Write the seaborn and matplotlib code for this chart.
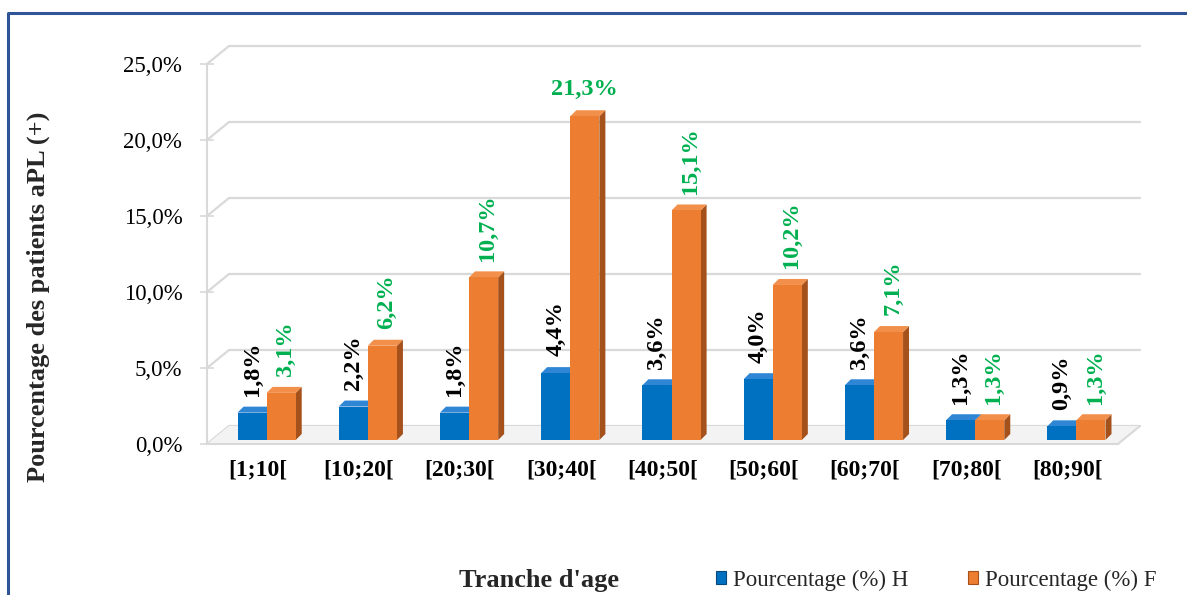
import numpy as np
import pandas as pd
import matplotlib
matplotlib.use("Agg")
import matplotlib.pyplot as plt
import seaborn as sns
from matplotlib.patches import Polygon, Patch
from matplotlib.lines import Line2D
from matplotlib.transforms import IdentityTransform, offset_copy

# ---- data -------------------------------------------------------------
tranches = ["[1;10[", "[10;20[", "[20;30[", "[30;40[", "[40;50[",
            "[50;60[", "[60;70[", "[70;80[", "[80;90["]
pct_h = [1.8, 2.2, 1.8, 4.4, 3.6, 4.0, 3.6, 1.3, 0.9]
pct_f = [3.1, 6.2, 10.7, 21.3, 15.1, 10.2, 7.1, 1.3, 1.3]
series = ["Pourcentage (%) H", "Pourcentage (%) F"]
y_ticks = [0, 5, 10, 15, 20, 25]

# ---- style ------------------------------------------------------------
BLUE, BLUE_SIDE, BLUE_TOP = "#0070C0", "#07477F", "#2F86D4"
ORANGE, ORANGE_SIDE, ORANGE_TOP = "#ED7D31", "#A4511C", "#F28F4A"
GREEN = "#00B050"
GRID = "#D9D9D9"

sns.set_theme(style="white")
plt.rcParams["font.family"] = ["Liberation Serif", "DejaVu Serif"]

df = pd.DataFrame({
    "Tranche": tranches * 2,
    "Sexe": [series[0]] * len(tranches) + [series[1]] * len(tranches),
    "Pct": pct_h + pct_f,
})

W, H = 1187, 595
fig = plt.figure(figsize=(W / 100, H / 100), dpi=100)
ax = fig.add_axes([207 / W, (H - 444) / H, 911 / W, 380 / H])
ax.patch.set_visible(False)

sns.barplot(data=df, x="Tranche", y="Pct", hue="Sexe",
            palette=[BLUE, ORANGE], saturation=1, width=0.575,
            linewidth=0, legend=False, zorder=3, ax=ax)

ax.set_xlim(-0.5, len(tranches) - 0.5)
ax.set_ylim(0, 25)
ax.set_xlabel("")
ax.set_ylabel("")

# ---- axes styling -----------------------------------------------------
for side in ("top", "right"):
    ax.spines[side].set_visible(False)
ax.spines["left"].set_color(GRID)
ax.spines["left"].set_linewidth(1.5)
ax.spines["bottom"].set_color(GRID)
ax.spines["bottom"].set_linewidth(1.5)
ax.grid(False)

ax.set_yticks(y_ticks)
ax.set_yticklabels([f"{v:.1f}%".replace(".", ",") for v in y_ticks])
ax.tick_params(axis="y", direction="inout", length=9.5, width=1.2,
               color=GRID, pad=13, labelsize=16.5, labelcolor="black", left=True)
ax.tick_params(axis="x", length=0, pad=11, labelsize=17, labelcolor="black")
for lab in ax.get_xticklabels():
    lab.set_fontweight("bold")

# ---- back wall gridlines and floor (depth projection) -----------------
DX, DY = 22, 18
x_lo, x_hi = ax.get_xlim()
for v in y_ticks:
    f = ax.transData.transform((x_lo, v))
    r = ax.transData.transform((x_hi, v))
    ln = Line2D([f[0], f[0] + DX, r[0] + DX], [f[1], f[1] + DY, r[1] + DY],
                transform=IdentityTransform(), color=GRID, lw=1.6,
                zorder=1, clip_on=False)
    ax.add_artist(ln)

f0 = ax.transData.transform((x_lo, 0))
r0 = ax.transData.transform((x_hi, 0))
floor = Polygon([(f0[0], f0[1]), (r0[0], r0[1]), (r0[0] + DX, r0[1] + DY),
                 (f0[0] + DX, f0[1] + DY)], closed=True,
                transform=IdentityTransform(), facecolor="#F3F3F3",
                edgecolor="none", zorder=1.2, clip_on=False)
ax.add_artist(floor)
edge = Line2D([r0[0], r0[0] + DX], [r0[1], r0[1] + DY],
              transform=IdentityTransform(), color=GRID, lw=1.5,
              zorder=1.3, clip_on=False)
ax.add_artist(edge)

# ---- bars set at mid depth, with side and top faces ------------------
bar_trans = offset_copy(ax.transData, fig=fig, x=9, y=4, units="dots")
D = 6
faces = [(BLUE_SIDE, BLUE_TOP), (ORANGE_SIDE, ORANGE_TOP)]
for container, (side_c, top_c) in zip(ax.containers, faces):
    for bar in container:
        bar.set_transform(bar_trans)
        bar.set_clip_on(False)
        x0, w, h = bar.get_x(), bar.get_width(), bar.get_height()
        (ax0, ay0), (ax1, ay1) = bar_trans.transform([(x0, 0), (x0 + w, h)])
        side = Polygon([(ax1, ay0), (ax1, ay1), (ax1 + D, ay1 + D), (ax1 + D, ay0 + D)],
                       closed=True, transform=IdentityTransform(),
                       facecolor=side_c, edgecolor="none", zorder=2.9, clip_on=False)
        top = Polygon([(ax0, ay1), (ax1, ay1), (ax1 + D, ay1 + D), (ax0 + D, ay1 + D)],
                      closed=True, transform=IdentityTransform(),
                      facecolor=top_c, edgecolor="none", zorder=2.9, clip_on=False)
        ax.add_artist(side)
        ax.add_artist(top)

# ---- value labels -----------------------------------------------------
def fmt(v):
    return f"{v:.1f}%".replace(".", ",")

for bar, v in zip(ax.containers[0], pct_h):
    ax.annotate(fmt(v), xy=(bar.get_x() + bar.get_width() / 2, v),
                xycoords=bar_trans, xytext=(0, 12), textcoords="offset points",
                rotation=90, ha="center", va="bottom", fontsize=17.5,
                fontweight="bold", color="black", annotation_clip=False)

f_max = max(pct_f)
for bar, v in zip(ax.containers[1], pct_f):
    horizontal = v == f_max
    ax.annotate(fmt(v), xy=(bar.get_x() + bar.get_width() / 2, v),
                xycoords=bar_trans,
                xytext=(0 if horizontal else 3, 12), textcoords="offset points",
                rotation=0 if horizontal else 90, ha="center", va="bottom",
                fontsize=17.5, fontweight="bold", color=GREEN,
                annotation_clip=False)

# ---- titles, legend, frame --------------------------------------------
fig.text(38 / W, 1 - 297 / H, "Pourcentage des patients aPL (+)",
         rotation=90, ha="center", va="center", fontsize=19, fontweight="bold")
fig.text(539 / W, 1 - 580 / H, "Tranche d'age", ha="center", va="center",
         fontsize=19, fontweight="bold")

handles = [Patch(facecolor=BLUE, edgecolor=BLUE_SIDE, linewidth=0.8),
           Patch(facecolor=ORANGE, edgecolor=ORANGE_SIDE, linewidth=0.8)]
fig.legend(handles, series, loc="center left",
           bbox_to_anchor=(716 / W, 1 - 580 / H), bbox_transform=fig.transFigure,
           frameon=False, ncol=2, fontsize=16.5, handlelength=0.45,
           handleheight=0.45, handletextpad=0.3, columnspacing=2.6,
           borderpad=0, borderaxespad=0)

frame = Line2D([8 / W, 8 / W, 1.0], [0.0, 1 - 13 / H, 1 - 13 / H],
               transform=fig.transFigure, color="#2F5597", lw=2.2)
fig.add_artist(frame)

fig.savefig("out.png", dpi=100)
